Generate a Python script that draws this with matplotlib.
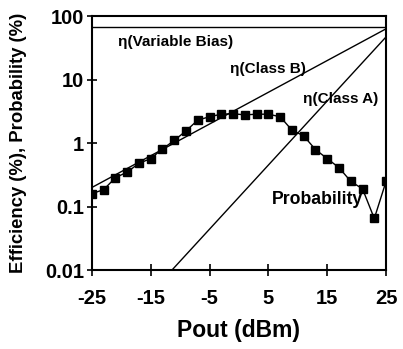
import matplotlib
matplotlib.use("Agg")
import matplotlib.pyplot as plt
from matplotlib.ticker import FixedLocator, NullLocator, FixedFormatter

plt.rcParams['font.family'] = ['Liberation Sans', 'DejaVu Sans']
plt.rcParams['font.weight'] = 'bold'

# Data
pout = [-25, -23, -21, -19, -17, -15, -13, -11, -9, -7, -5, -3, -1,
        1, 3, 5, 7, 9, 11, 13, 15, 17, 19, 21, 23, 25]
probability = [0.16, 0.185, 0.285, 0.35, 0.48, 0.57, 0.81, 1.1, 1.56, 2.3, 2.6, 2.85, 2.9,
               2.78, 2.85, 2.85, 2.6, 1.6, 1.3, 0.79, 0.57, 0.41, 0.25, 0.19, 0.065, 0.25]
classb_x = [-25, 25]
classb_y = [0.2, 63]
classa_x = [-11.4, 25]
classa_y = [0.01, 47]
varbias_x = [-25, 25]
varbias_y = [67, 67]
xticks = [-25, -15, -5, 5, 15, 25]
yticks = [0.01, 0.1, 1, 10, 100]
yticklabels = ['0.01', '0.1', '1', '10', '100']

fig = plt.figure(figsize=(4.03, 3.49), dpi=100)
ax = fig.add_axes([0.228, 0.226, 0.730, 0.728])

ax.plot(varbias_x, varbias_y, color='black', lw=1.0)
ax.plot(classb_x, classb_y, color='black', lw=1.0)
ax.plot(classa_x, classa_y, color='black', lw=1.0)
ax.plot(pout, probability, color='black', lw=1.0, marker='s', markersize=5.5)

ax.set_yscale('log')
ax.set_xlim(-25, 25)
ax.set_ylim(0.01, 100)
ax.yaxis.set_major_locator(FixedLocator(yticks))
ax.yaxis.set_major_formatter(FixedFormatter(yticklabels))
ax.yaxis.set_minor_locator(NullLocator())
ax.set_xticks(xticks)
ax.set_xticklabels([str(v) for v in xticks])

for s in ax.spines.values():
    s.set_linewidth(1.5)
ax.tick_params(axis='both', direction='inout', width=1.2, labelsize=14.5)
ax.tick_params(axis='x', length=9, pad=9)
ax.tick_params(axis='y', length=7, pad=2)
for lab in ax.get_xticklabels() + ax.get_yticklabels():
    lab.set_fontweight('bold')

ax.text(-20.6, 39, 'η(Variable Bias)', fontsize=11, fontweight='bold', va='center', ha='left')
ax.text(-1.5, 14.6, 'η(Class B)', fontsize=11, fontweight='bold', va='center', ha='left')
ax.text(10.9, 4.9, 'η(Class A)', fontsize=11, fontweight='bold', va='center', ha='left')
ax.text(5.6, 0.13, 'Probability', fontsize=12.7, fontweight='bold', va='center', ha='left')

ax.set_xlabel('Pout (dBm)', fontsize=16.5, fontweight='bold', labelpad=8)
ax.set_ylabel('Efficiency (%), Probability (%)', fontsize=13.3, fontweight='bold')
ax.yaxis.set_label_coords(-0.221, 0.5)

fig.savefig('out.png', dpi=100)
